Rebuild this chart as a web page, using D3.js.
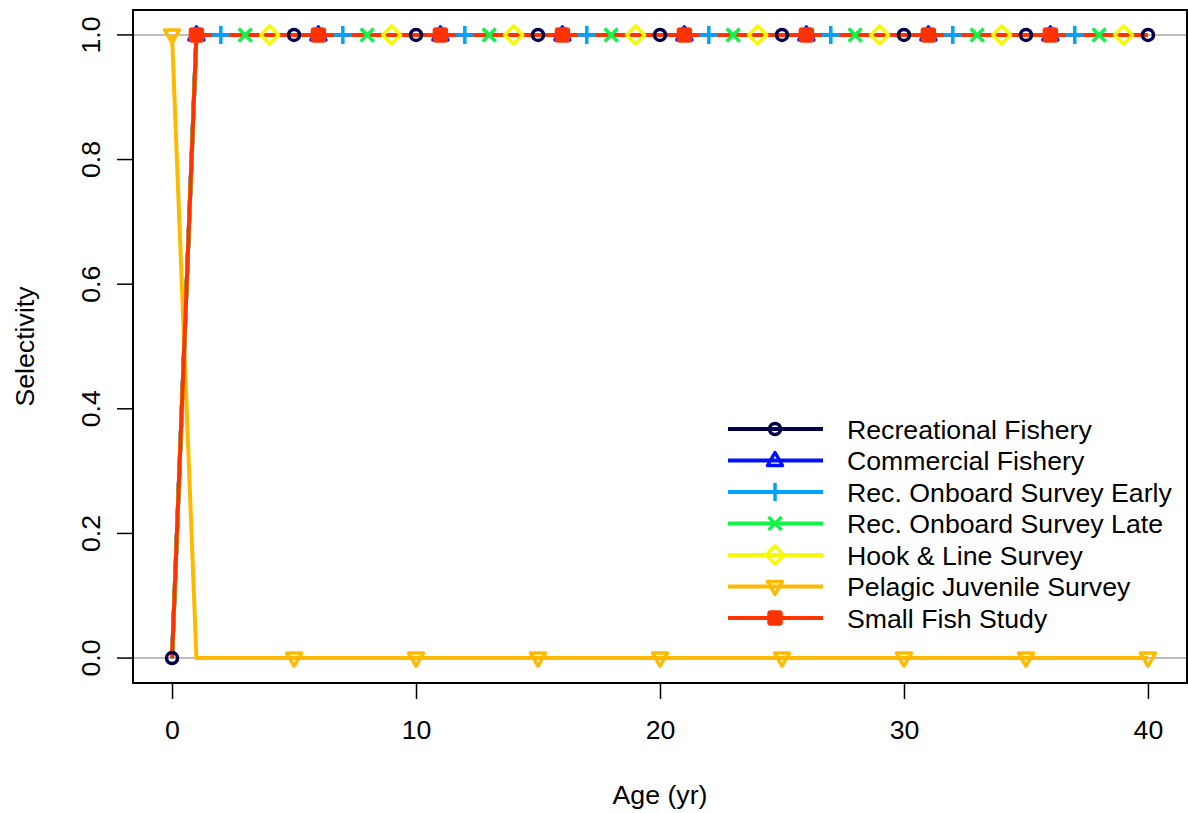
<!DOCTYPE html>
<html><head><meta charset="utf-8">
<script src="https://cdn.jsdelivr.net/npm/d3@7"></script>
<style>body{margin:0;background:#fff}svg{display:block}text{font-family:"Liberation Sans",Arial,sans-serif;fill:#000}</style>
</head><body><svg id="c" width="1188" height="813"></svg>
<script>
const ages = [0,1,2,3,4,5,6,7,8,9,10,11,12,13,14,15,16,17,18,19,20,21,22,23,24,25,26,27,28,29,30,31,32,33,34,35,36,37,38,39,40];
const seriesNames = ["Recreational Fishery","Commercial Fishery","Rec. Onboard Survey Early","Rec. Onboard Survey Late","Hook & Line Survey","Pelagic Juvenile Survey","Small Fish Study"];
const recreational = [0,1,1,1,1,1,1,1,1,1,1,1,1,1,1,1,1,1,1,1,1,1,1,1,1,1,1,1,1,1,1,1,1,1,1,1,1,1,1,1,1];
const commercial   = [0,1,1,1,1,1,1,1,1,1,1,1,1,1,1,1,1,1,1,1,1,1,1,1,1,1,1,1,1,1,1,1,1,1,1,1,1,1,1,1,1];
const recEarly     = [0,1,1,1,1,1,1,1,1,1,1,1,1,1,1,1,1,1,1,1,1,1,1,1,1,1,1,1,1,1,1,1,1,1,1,1,1,1,1,1,1];
const recLate      = [0,1,1,1,1,1,1,1,1,1,1,1,1,1,1,1,1,1,1,1,1,1,1,1,1,1,1,1,1,1,1,1,1,1,1,1,1,1,1,1,1];
const hookLine     = [0,1,1,1,1,1,1,1,1,1,1,1,1,1,1,1,1,1,1,1,1,1,1,1,1,1,1,1,1,1,1,1,1,1,1,1,1,1,1,1,1];
const pelagic      = [1,0,0,0,0,0,0,0,0,0,0,0,0,0,0,0,0,0,0,0,0,0,0,0,0,0,0,0,0,0,0,0,0,0,0,0,0,0,0,0,0];
const smallFish    = [0,1,1,1,1,1,1,1,1,1,1,1,1,1,1,1,1,1,1,1,1,1,1,1,1,1,1,1,1,1,1,1,1,1,1,1,1,1,1,1,1];
const seriesValues = [recreational,commercial,recEarly,recLate,hookLine,pelagic,smallFish];
const markerStart = [0,1,2,3,4,0,1];
const markerEvery = 5;
const xTicks = [0,10,20,30,40];
const yTicks = [0,0.2,0.4,0.6,0.8,1.0];
const colors = ["#00004A","#0010FF","#00A4FF","#13F24A","#F6F906","#FFBA00","#FF3300"];
const shapes = ["circle","triangle","plus","cross","diamond","triangleDown","boxX"];

const FONT = "26.7px";
const svg = d3.select("#c");
const L=133,R=1187,T=10,B=683;
const x = d3.scaleLinear().domain([-1.6,41.6]).range([L,R]);
const y = d3.scaleLinear().domain([-0.04,1.04]).range([B,T]);

[0,1].forEach(v=>svg.append("line").attr("x1",L).attr("x2",R).attr("y1",y(v)).attr("y2",y(v)).attr("stroke","#bebebe").attr("stroke-width",2));

function marker(g, shape, cx, cy, col){
  const sw=3.5;
  if(shape==="circle") g.append("circle").attr("cx",cx).attr("cy",cy).attr("r",5.5).attr("fill","none").attr("stroke",col).attr("stroke-width",sw);
  else if(shape==="triangle") g.append("path").attr("d",`M${cx},${cy-8}L${cx+7.5},${cy+5}L${cx-7.5},${cy+5}Z`).attr("fill","none").attr("stroke",col).attr("stroke-width",sw).attr("stroke-linejoin","round");
  else if(shape==="triangleDown") g.append("path").attr("d",`M${cx},${cy+8}L${cx+7.5},${cy-5}L${cx-7.5},${cy-5}Z`).attr("fill","none").attr("stroke",col).attr("stroke-width",sw).attr("stroke-linejoin","round");
  else if(shape==="plus") g.append("path").attr("d",`M${cx-9},${cy}H${cx+9}M${cx},${cy-9}V${cy+9}`).attr("stroke",col).attr("stroke-width",sw);
  else if(shape==="cross") g.append("path").attr("d",`M${cx-6.5},${cy-6.5}L${cx+6.5},${cy+6.5}M${cx-6.5},${cy+6.5}L${cx+6.5},${cy-6.5}`).attr("stroke",col).attr("stroke-width",sw);
  else if(shape==="diamond") g.append("path").attr("d",`M${cx},${cy-9}L${cx+9},${cy}L${cx},${cy+9}L${cx-9},${cy}Z`).attr("fill","none").attr("stroke",col).attr("stroke-width",sw).attr("stroke-linejoin","round");
  else if(shape==="boxX") g.append("rect").attr("x",cx-6).attr("y",cy-6).attr("width",12).attr("height",12).attr("fill",col).attr("stroke",col).attr("stroke-width",sw).attr("rx",1.5);
}

const line = d3.line().x((d,i)=>x(ages[i])).y(d=>y(d));
const lineG = svg.append("g");
const markG = svg.append("g");
seriesValues.forEach((vals,s)=>{
  lineG.append("path").attr("d",line(vals)).attr("fill","none").attr("stroke",colors[s]).attr("stroke-width",4).attr("stroke-linejoin","round");
  vals.forEach((v,i)=>{ if(i>=markerStart[s] && (i-markerStart[s])%markerEvery===0) marker(markG,shapes[s],x(ages[i]),y(v),colors[s]); });
});

svg.append("rect").attr("x",L).attr("y",T).attr("width",R-L).attr("height",B-T).attr("fill","none").attr("stroke","#000").attr("stroke-width",2);

const xa = svg.append("g").attr("transform",`translate(0,${B})`).call(d3.axisBottom(x).tickValues(xTicks).tickSize(16).tickPadding(21).tickFormat(d3.format("d")));
const ya = svg.append("g").attr("transform",`translate(${L},0)`).call(d3.axisLeft(y).tickValues(yTicks).tickSize(16).tickFormat(d3.format(".1f")));
[xa,ya].forEach(a=>{a.select(".domain").remove(); a.selectAll("line").attr("stroke","#000").attr("stroke-width",1.5); a.selectAll("text").style("font-family","'Liberation Sans',Arial,sans-serif").style("font-size",FONT).attr("fill","#000");});
xa.selectAll("text").attr("dy","0.71em");
ya.selectAll(".tick").attr("transform","translate(0,0)");
ya.selectAll(".tick line").attr("y1",d=>y(d)).attr("y2",d=>y(d));
ya.selectAll(".tick text").attr("x",null).attr("y",0).attr("dy","0em").attr("text-anchor","middle").attr("transform",d=>`translate(-33,${y(d)}) rotate(-90)`);

svg.append("text").attr("x",(L+R)/2).attr("y",804).attr("text-anchor","middle").style("font-size",FONT).text("Age (yr)");
svg.append("text").attr("transform",`translate(34,${(T+B)/2}) rotate(-90)`).attr("text-anchor","middle").style("font-size",FONT).text("Selectivity");

const lg = svg.append("g");
const legY0=429, legDy=31.5;
seriesNames.forEach((n,s)=>{
  const yy = legY0 + s*legDy;
  lg.append("line").attr("x1",728).attr("x2",823).attr("y1",yy).attr("y2",yy).attr("stroke",colors[s]).attr("stroke-width",4);
  marker(lg,shapes[s],775,yy,colors[s]);
  lg.append("text").attr("x",847).attr("y",yy+9.5).style("font-size",FONT).text(n);
});
</script></body></html>
